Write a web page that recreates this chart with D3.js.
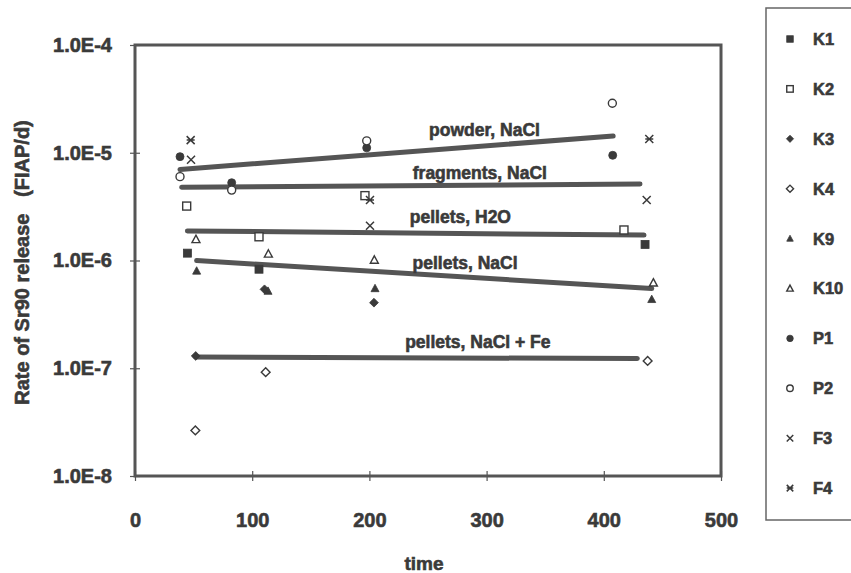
<!DOCTYPE html>
<html>
<head>
<meta charset="utf-8">
<script src="https://cdn.jsdelivr.net/npm/d3@7"></script>
<style>
  html, body { margin: 0; padding: 0; background: #fff; }
  svg { display: block; }
  text { font-family: "Liberation Sans", Arial, sans-serif; font-weight: bold; fill: #3a3a3a;
         stroke: #3a3a3a; stroke-width: 0.6px; }
</style>
</head>
<body>
<svg id="chart" width="851" height="573"></svg>
<script>
// Sr90 release rate per sample, time in days, rate in FIAP/d
const seriesNames = ["K1", "K2", "K3", "K4", "K9", "K10", "P1", "P2", "F3", "F4"];
const seriesSymbols = ["squareFilled", "squareOpen", "diamondFilled", "diamondOpen", "triangleFilled",
                       "triangleOpen", "circleFilled", "circleOpen", "cross", "asterisk"];

const K1  = [[44.7, 1.17e-6], [105.8, 8.3e-7], [435.2, 1.41e-6]];
const K2  = [[44.1, 3.2e-6], [105.8, 1.66e-6], [196.2, 4.0e-6], [417.2, 1.92e-6]];
const K3  = [[51.8, 1.3e-7], [110.5, 5.4e-7], [203.9, 4.06e-7]];
const K4  = [[51.5, 2.65e-8], [111.5, 9.2e-8], [437.4, 1.17e-7]];
const K9  = [[52.6, 8.0e-7], [113.5, 5.2e-7], [204.8, 5.5e-7], [440.9, 4.36e-7]];
const K10 = [[52.0, 1.57e-6], [113.8, 1.15e-6], [204.2, 1.01e-6], [442.3, 6.2e-7]];
const P1  = [[38.4, 9.2e-6], [82.5, 5.27e-6], [197.7, 1.11e-5], [407.6, 9.47e-6]];
const P2  = [[38.4, 6.0e-6], [82.5, 4.5e-6], [197.7, 1.29e-5], [407.3, 2.88e-5]];
const F3  = [[47.8, 8.6e-6], [200.5, 2.1e-6], [436.6, 3.65e-6]];
const F4  = [[47.5, 1.31e-5], [200.5, 3.65e-6], [438.8, 1.34e-5]];
const seriesData = [K1, K2, K3, K4, K9, K10, P1, P2, F3, F4];

// Fitted trend lines: [time, rate] at start and end
const trendNames = ["powder, NaCl", "fragments, NaCl", "pellets, H2O", "pellets, NaCl", "pellets, NaCl + Fe"];
const trendStart = [[38.4, 7.0e-6], [39.8, 4.78e-6], [44.7, 1.88e-6], [52.6, 1.0e-6], [51.8, 1.27e-7]];
const trendEnd   = [[408.0, 1.43e-5], [430.9, 5.13e-6], [434.3, 1.72e-6], [440.9, 5.5e-7], [428.6, 1.23e-7]];

const xTicks = [0, 100, 200, 300, 400, 500];
const yTicks = [1e-8, 1e-7, 1e-6, 1e-5, 1e-4];
const yTickLabels = ["1.0E-8", "1.0E-7", "1.0E-6", "1.0E-5", "1.0E-4"];

const xTitle = "time";
const yTitle = "Rate of Sr90 release\u00a0\u00a0 (FIAP/d)";

const ink = "#3a3a3a", lineInk = "#555";

const svg = d3.select("#chart");
const plotL = 135, plotR = 721, plotT = 45, plotB = 476;

const x = d3.scaleLinear().domain([0, 500]).range([plotL, plotR]);
const y = d3.scaleLog().domain([1e-8, 1e-4]).range([plotB, plotT]);

// Symbol painter
function drawSymbol(g, kind, cx, cy, s) {
  const filled = { fill: ink, stroke: ink, "stroke-width": 0.8 };
  const open = { fill: "#fff", stroke: ink, "stroke-width": 1.4 };
  const apply = (sel, st) => { Object.entries(st).forEach(([k, v]) => sel.attr(k, v)); return sel; };
  const h = s / 2;
  switch (kind) {
    case "squareFilled":
      apply(g.append("rect").attr("x", cx - h).attr("y", cy - h).attr("width", s).attr("height", s), filled); break;
    case "squareOpen":
      apply(g.append("rect").attr("x", cx - h).attr("y", cy - h).attr("width", s).attr("height", s), open); break;
    case "diamondFilled":
      apply(g.append("path").attr("d", `M${cx},${cy - h * 1.1}L${cx + h * 1.1},${cy}L${cx},${cy + h * 1.1}L${cx - h * 1.1},${cy}Z`), filled); break;
    case "diamondOpen":
      apply(g.append("path").attr("d", `M${cx},${cy - h * 1.1}L${cx + h * 1.1},${cy}L${cx},${cy + h * 1.1}L${cx - h * 1.1},${cy}Z`), open); break;
    case "triangleFilled":
      apply(g.append("path").attr("d", `M${cx},${cy - h * 1.05}L${cx + h},${cy + h * 0.8}L${cx - h},${cy + h * 0.8}Z`), filled); break;
    case "triangleOpen":
      apply(g.append("path").attr("d", `M${cx},${cy - h * 1.05}L${cx + h},${cy + h * 0.8}L${cx - h},${cy + h * 0.8}Z`), open); break;
    case "circleFilled":
      apply(g.append("circle").attr("cx", cx).attr("cy", cy).attr("r", h), filled); break;
    case "circleOpen":
      apply(g.append("circle").attr("cx", cx).attr("cy", cy).attr("r", h), open); break;
    case "cross":
      g.append("path").attr("d", `M${cx - h},${cy - h}L${cx + h},${cy + h}M${cx - h},${cy + h}L${cx + h},${cy - h}`)
        .attr("stroke", ink).attr("stroke-width", 1.5).attr("fill", "none"); break;
    case "asterisk":
      g.append("path").attr("d", `M${cx - h},${cy - h}L${cx + h},${cy + h}M${cx - h},${cy + h}L${cx + h},${cy - h}M${cx - h},${cy}L${cx + h},${cy}`)
        .attr("stroke", ink).attr("stroke-width", 1.5).attr("fill", "none"); break;
  }
}

// Y axis with ticks crossing the axis line
const yAxis = d3.axisLeft(y).tickValues(yTicks).tickSize(5).tickPadding(18)
  .tickFormat((d, i) => yTickLabels[i]);
const gy = svg.append("g").attr("transform", `translate(${plotL},0)`).call(yAxis);
gy.select(".domain").remove();
gy.selectAll(".tick line").attr("x1", 5).attr("stroke", lineInk).attr("stroke-width", 1.2);
gy.selectAll(".tick text").attr("font-size", 20).attr("font-family", null).attr("fill", ink);

const xAxis = d3.axisBottom(x).tickValues(xTicks).tickSize(5).tickPadding(32).tickFormat(d3.format("d"));
const gx = svg.append("g").attr("transform", `translate(0,${plotB})`).call(xAxis);
gx.select(".domain").remove();
gx.selectAll(".tick line").attr("y1", -5).attr("stroke", lineInk).attr("stroke-width", 1.2);
gx.selectAll(".tick text").attr("font-size", 20).attr("font-family", null).attr("fill", ink);

// Plot frame
svg.append("rect").attr("x", plotL).attr("y", plotT).attr("width", plotR - plotL).attr("height", plotB - plotT)
  .attr("fill", "none").attr("stroke", lineInk).attr("stroke-width", 3);

// Trend lines
const line = d3.line().x(d => x(d[0])).y(d => y(d[1]));
const gTrend = svg.append("g");
trendNames.forEach((name, i) => {
  gTrend.append("path").datum([trendStart[i], trendEnd[i]]).attr("d", line)
    .attr("fill", "none").attr("stroke", lineInk).attr("stroke-width", 5).attr("stroke-linecap", "round");
});

// Trend labels, placed above each line near its right part
const labelAt = [250.9, 237.0, 234.5, 236.8, 230.5];
const labelLift = [14, 7, 10, 5, 10];
trendNames.forEach((name, i) => {
  const t0 = trendStart[i], t1 = trendEnd[i];
  const f = (labelAt[i] - t0[0]) / (t1[0] - t0[0]);
  const ly = y(t0[1]) + f * (y(t1[1]) - y(t0[1]));
  svg.append("text").attr("x", x(labelAt[i])).attr("y", ly - labelLift[i])
    .attr("font-size", 17.5).text(name);
});

// Data points
const gPts = svg.append("g");
seriesData.forEach((pts, si) => {
  pts.forEach(p => drawSymbol(gPts, seriesSymbols[si], x(p[0]), y(p[1]), 8));
});

// Axis titles
svg.append("text").attr("x", (plotL + plotR) / 2 - 4).attr("y", 570).attr("text-anchor", "middle")
  .attr("font-size", 19).text(xTitle);
svg.append("text").attr("transform", `translate(29,${(plotT + plotB) / 2 + 2}) rotate(-90)`)
  .attr("text-anchor", "middle").attr("font-size", 20).text(yTitle);

// Legend
svg.append("rect").attr("x", 766).attr("y", 8).attr("width", 100).attr("height", 512)
  .attr("fill", "none").attr("stroke", "#666").attr("stroke-width", 1.5);
const gLeg = svg.append("g");
seriesNames.forEach((name, i) => {
  const cy = 39 + i * 49.9;
  drawSymbol(gLeg, seriesSymbols[i], 790, cy, 6.5);
  gLeg.append("text").attr("x", 813).attr("y", cy).attr("dy", "0.36em").attr("font-size", 16.5).text(name);
});
</script>
</body>
</html>
